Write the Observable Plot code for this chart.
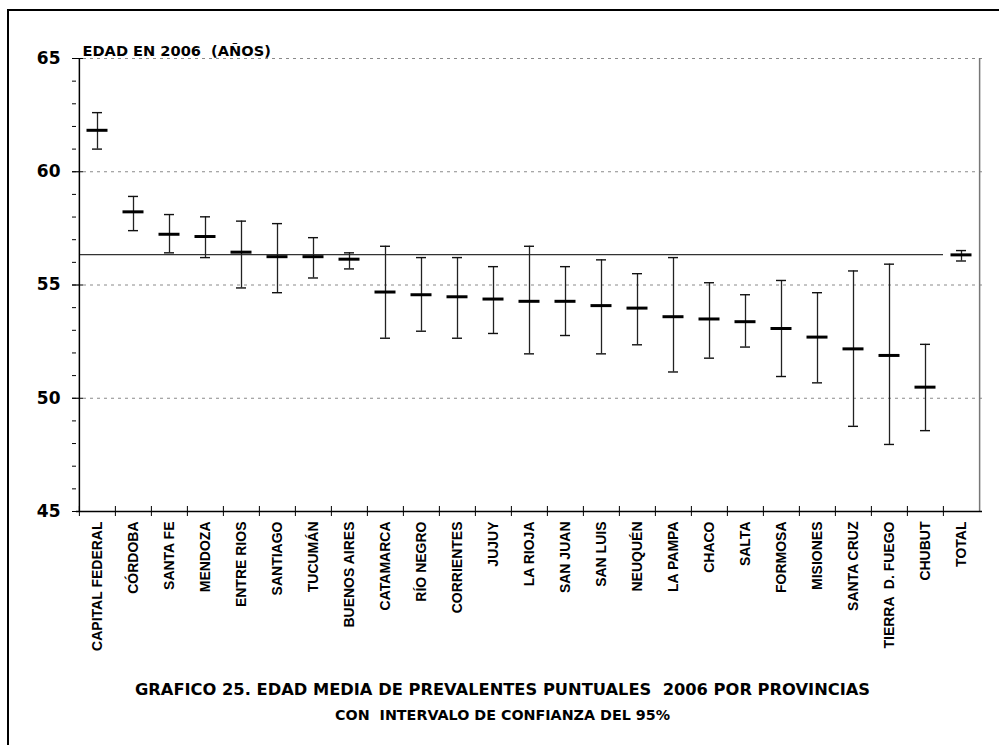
<!DOCTYPE html>
<html>
<head>
<meta charset="utf-8">
<script src="https://cdn.jsdelivr.net/npm/d3@7"></script>
<script src="https://cdn.jsdelivr.net/npm/@observablehq/plot@0.6"></script>
<style>
  html, body { margin: 0; padding: 0; background: #fff; }
  body { position: relative; width: 999px; height: 745px; overflow: hidden; }
  #frame { position: absolute; left: 7px; top: 9px; width: 1200px; height: 1000px;
           border-left: 2px solid #000; border-top: 2px solid #000; }
  #chart { position: absolute; left: 0; top: 0; }
  #chart svg text { white-space: pre; }
  .ttl { position: absolute; left: 3px; width: 999px; text-align: center;
         font-family: "DejaVu Sans", sans-serif; font-weight: bold; color: #000; white-space: pre; }
  #title { top: 680px; font-size: 16.3px; line-height: 19px; }
  #subtitle { top: 707px; font-size: 14.3px; line-height: 17px; }
</style>
</head>
<body>
<div id="frame"></div>
<div id="chart"></div>
<div id="title" class="ttl">GRAFICO 25. EDAD MEDIA DE PREVALENTES PUNTUALES  2006 POR PROVINCIAS</div>
<div id="subtitle" class="ttl">CON  INTERVALO DE CONFIANZA DEL 95%</div>
<script>
const categories = ["CAPITAL FEDERAL","CÓRDOBA","SANTA FE","MENDOZA","ENTRE RIOS","SANTIAGO","TUCUMÁN","BUENOS AIRES","CATAMARCA","RÍO NEGRO","CORRIENTES","JUJUY","LA RIOJA","SAN JUAN","SAN LUIS","NEUQUÉN","LA PAMPA","CHACO","SALTA","FORMOSA","MISIONES","SANTA CRUZ","TIERRA  D. FUEGO","CHUBUT","TOTAL"];
const means = [61.83, 58.23, 57.24, 57.14, 56.45, 56.25, 56.25, 56.14, 54.69, 54.57, 54.48, 54.38, 54.28, 54.28, 54.09, 53.98, 53.60, 53.50, 53.38, 53.08, 52.70, 52.18, 51.89, 50.49, 56.33];
const upper = [62.61, 58.91, 58.11, 58.01, 57.82, 57.71, 57.09, 56.42, 56.71, 56.21, 56.21, 55.81, 56.71, 55.81, 56.11, 55.50, 56.21, 55.10, 54.57, 55.20, 54.66, 55.62, 55.92, 52.38, 56.52];
const lower = [61.00, 57.40, 56.42, 56.21, 54.87, 54.66, 55.31, 55.71, 52.65, 52.96, 52.65, 52.86, 51.96, 52.77, 51.96, 52.36, 51.16, 51.77, 52.26, 50.96, 50.68, 48.76, 47.96, 48.57, 56.06];
const totalMean = 56.34;
const yDomain = [45, 65];
const yMinorTicks = d3.range(45, 66, 1);
const yMajorTicks = [45, 50, 55, 60, 65];
const gridValues = [50, 55, 60, 65];
const yLabel = "EDAD EN 2006  (AÑOS)";

const data = categories.map((name, i) => ({name, mean: means[i], hi: upper[i], lo: lower[i]}));

const W = 999, H = 665;
const mL = 76, mR = 17, mT = 58, mB = 154;
const bw = (W - mL - mR) / categories.length;

const chart = Plot.plot({
  width: W, height: H,
  marginLeft: mL, marginRight: mR, marginTop: mT, marginBottom: mB,
  style: {background: "transparent", color: "#000", fontFamily: "'DejaVu Sans', sans-serif"},
  x: {domain: categories, padding: 0, axis: null},
  y: {domain: yDomain, axis: null},
  marks: [
    Plot.ruleY(gridValues, {stroke: "#8a8a8a", strokeWidth: 1, strokeDasharray: "3,4"}),
    Plot.ruleY([totalMean], {y: d => d, x1: () => categories[0], x2: () => categories[categories.length - 2], stroke: "#333", strokeWidth: 1.3}),
    Plot.ruleX(data, {x: "name", y1: "lo", y2: "hi", stroke: "#222", strokeWidth: 1.3}),
    Plot.tickY(data, {x: "name", y: "hi", inset: 13, stroke: "#111", strokeWidth: 1.4}),
    Plot.tickY(data, {x: "name", y: "lo", inset: 13, stroke: "#111", strokeWidth: 1.4}),
    Plot.tickY(data, {x: "name", y: "mean", inset: 7.5, stroke: "#000", strokeWidth: 3}),
    // plot borders
    Plot.ruleX([categories[categories.length - 1]], {x: d => d, dx: bw / 2, stroke: "#777", strokeWidth: 1.5}),
    Plot.ruleX([categories[0]], {x: d => d, dx: -bw / 2, stroke: "#000", strokeWidth: 1.5}),
    Plot.ruleY([yDomain[0]], {y: d => d, stroke: "#000", strokeWidth: 1.5}),
    // y axis
    Plot.axisY({ticks: yMinorTicks, tickSize: 4, text: null, label: null, stroke: "#000"}),
    Plot.axisY({ticks: yMajorTicks, tickSize: 11, dx: 7, text: null, label: null, stroke: "#000"}),
    Plot.axisY({ticks: yMajorTicks, tickSize: 0, tickPadding: 16, label: null, fontSize: 17, fontWeight: "bold", fontFamily: "DejaVu Sans"}),
    // x axis
    Plot.axisX({tickSize: 10, dx: -bw / 2, dy: -5, text: null, label: null, stroke: "#000"}),
    Plot.axisX({tickSize: 0, tickPadding: 10, tickRotate: -90, label: null, fontSize: 14, fontWeight: "bold", fontFamily: "Liberation Sans, Arial, sans-serif"}),
    Plot.text([yLabel], {text: d => d, frameAnchor: "top-left", dx: 6, dy: -3, lineAnchor: "bottom", textAnchor: "start", fontSize: 14.6, fontWeight: "bold", fill: "#000"})
  ]
});
document.getElementById("chart").appendChild(chart);
</script>
</body>
</html>
